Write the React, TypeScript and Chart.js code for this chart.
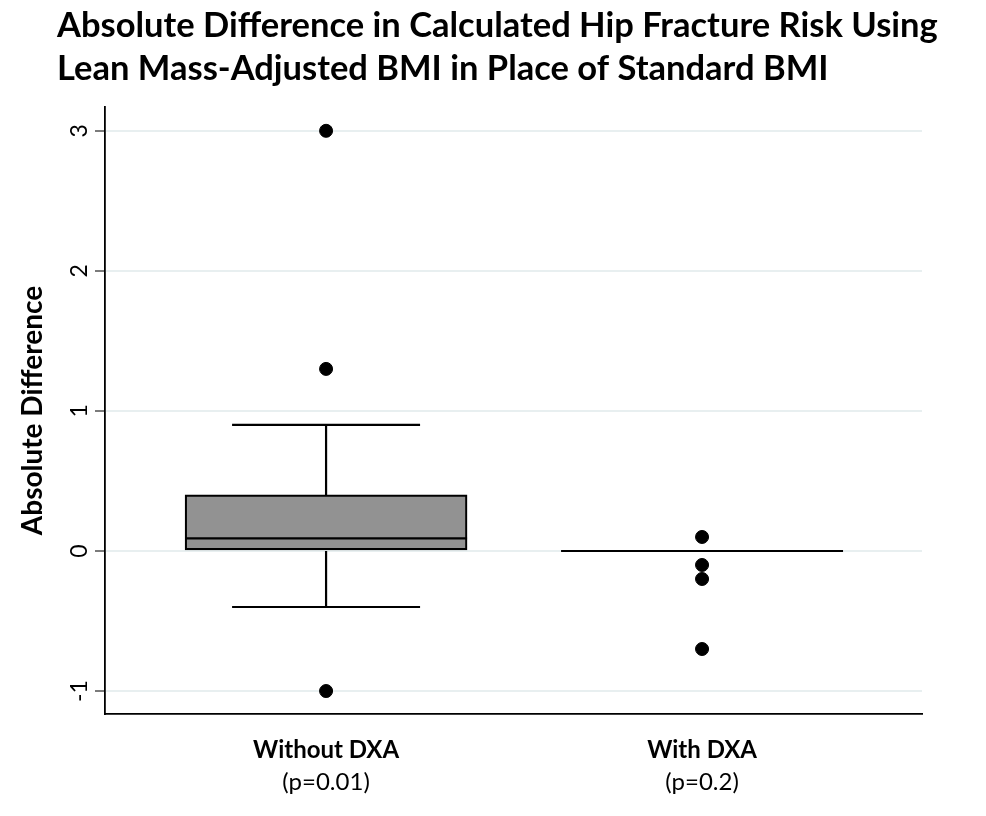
import React, { useEffect, useRef } from "react";
import { Chart, registerables } from "chart.js";

Chart.register(...registerables);

const titleLines = [
  "Absolute Difference in Calculated Hip Fracture Risk Using",
  "Lean Mass-Adjusted BMI in Place of Standard BMI",
];
const yAxisTitle = "Absolute Difference";
const categories = ["Without DXA", "With DXA"];
const pValues = ["(p=0.01)", "(p=0.2)"];
const categoryX = [1, 2];
const q1 = [0, 0];
const median = [0.09, 0];
const q3 = [0.4, 0];
const whiskerLow = [-0.4, 0];
const whiskerHigh = [0.9, 0];
const outliersWithout = [3.0, 1.3, -1.0];
const outliersWith = [0.1, -0.1, -0.2, -0.7];
const yTicks = [-1, 0, 1, 2, 3];

const FONT = "Lato, 'Open Sans', sans-serif";

const boxPlugin = {
  id: "boxExtras",
  afterDatasetsDraw(chart: any) {
    const { ctx, scales } = chart;
    const xs = scales.x;
    const ys = scales.y;
    ctx.save();
    ctx.strokeStyle = "#000";
    ctx.lineWidth = 2.2;
    categoryX.forEach((cx, i) => {
      const boxL = xs.getPixelForValue(cx - 0.375);
      const boxR = xs.getPixelForValue(cx + 0.375);
      const capL = xs.getPixelForValue(cx - 0.25);
      const capR = xs.getPixelForValue(cx + 0.25);
      const xc = xs.getPixelForValue(cx);
      const ym = ys.getPixelForValue(median[i]);
      ctx.beginPath();
      ctx.moveTo(boxL, ym);
      ctx.lineTo(boxR, ym);
      ctx.stroke();
      if (whiskerHigh[i] > q3[i]) {
        const y3 = ys.getPixelForValue(q3[i]);
        const yh = ys.getPixelForValue(whiskerHigh[i]);
        ctx.beginPath();
        ctx.moveTo(xc, y3);
        ctx.lineTo(xc, yh);
        ctx.moveTo(capL, yh);
        ctx.lineTo(capR, yh);
        ctx.stroke();
      }
      if (whiskerLow[i] < q1[i]) {
        const y1 = ys.getPixelForValue(q1[i]);
        const yl = ys.getPixelForValue(whiskerLow[i]);
        ctx.beginPath();
        ctx.moveTo(xc, y1);
        ctx.lineTo(xc, yl);
        ctx.moveTo(capL, yl);
        ctx.lineTo(capR, yl);
        ctx.stroke();
      }
    });
    ctx.restore();
  },
  afterDraw(chart: any) {
    const { ctx, scales, chartArea } = chart;
    const xs = scales.x;
    const ys = scales.y;
    ctx.save();
    ctx.fillStyle = "#000";
    ctx.textAlign = "left";
    ctx.textBaseline = "alphabetic";
    ctx.font = `bold 34.5px ${FONT}`;
    ctx.fillText(titleLines[0], 57, 37);
    ctx.fillText(titleLines[1], 57, 80);
    ctx.font = `23px ${FONT}`;
    ctx.textAlign = "center";
    ctx.textBaseline = "middle";
    yTicks.forEach((t) => {
      const y = ys.getPixelForValue(t);
      ctx.save();
      ctx.translate(80, y);
      ctx.rotate(-Math.PI / 2);
      ctx.fillText(String(t), 0, 0);
      ctx.restore();
    });
    ctx.save();
    ctx.font = `bold 28px ${FONT}`;
    ctx.translate(33, (chartArea.top + chartArea.bottom) / 2);
    ctx.rotate(-Math.PI / 2);
    ctx.fillText(yAxisTitle, 0, 0);
    ctx.restore();
    categoryX.forEach((cx, i) => {
      const x = xs.getPixelForValue(cx);
      ctx.font = `bold 24px ${FONT}`;
      ctx.textBaseline = "alphabetic";
      ctx.fillText(categories[i], x, 758);
      ctx.font = `24px ${FONT}`;
      ctx.fillText(pValues[i], x, 790);
    });
    ctx.restore();
  },
};

export default function App() {
  const ref = useRef<HTMLCanvasElement | null>(null);
  useEffect(() => {
    if (!ref.current) return;
    const chart = new Chart(ref.current, {
      type: "bar",
      data: {
        datasets: [
          {
            type: "bar",
            data: categoryX.map((x, i) => ({ x, y: [q1[i], q3[i]] })) as any,
            backgroundColor: "#929292",
            borderColor: "#000",
            borderWidth: 2.2,
            borderSkipped: false,
            barThickness: 282,
          } as any,
          {
            type: "scatter",
            data: [
              ...outliersWithout.map((y) => ({ x: categoryX[0], y })),
              ...outliersWith.map((y) => ({ x: categoryX[1], y })),
            ],
            backgroundColor: "#000",
            borderColor: "#000",
            pointRadius: 6.5,
            pointHoverRadius: 6.5,
          } as any,
        ],
      },
      options: {
        animation: false,
        responsive: true,
        maintainAspectRatio: false,
        devicePixelRatio: 1,
        layout: { padding: { top: 107, right: 64, bottom: 0, left: 0 } },
        plugins: {
          legend: { display: false },
          tooltip: { enabled: false },
          title: { display: false },
        },
        scales: {
          x: {
            type: "linear",
            offset: false,
            min: 0.412,
            max: 2.585,
            afterBuildTicks: (s: any) => {
              s.ticks = categoryX.map((v) => ({ value: v }));
            },
            afterFit: (s: any) => {
              s.height = 102;
            },
            grid: { display: false },
            ticks: { display: false },
            border: { display: true, color: "#000", width: 1.8 },
          },
          y: {
            type: "linear",
            min: -1.164,
            max: 3.17,
            afterBuildTicks: (s: any) => {
              s.ticks = yTicks.map((v) => ({ value: v }));
            },
            afterFit: (s: any) => {
              s.width = 105;
            },
            grid: {
              display: true,
              color: "#e8eff0",
              lineWidth: 2,
              drawTicks: true,
              tickLength: 10,
              tickColor: "#333",
              tickWidth: 1.3,
            },
            ticks: { display: false },
            border: { display: true, color: "#000", width: 1.8 },
          },
        },
      } as any,
      plugins: [boxPlugin],
    });
    return () => chart.destroy();
  }, []);
  return (
    <div style={{ position: "fixed", left: 0, top: 0, width: 986, height: 816, background: "#fff" }}>
      <canvas ref={ref} />
    </div>
  );
}
